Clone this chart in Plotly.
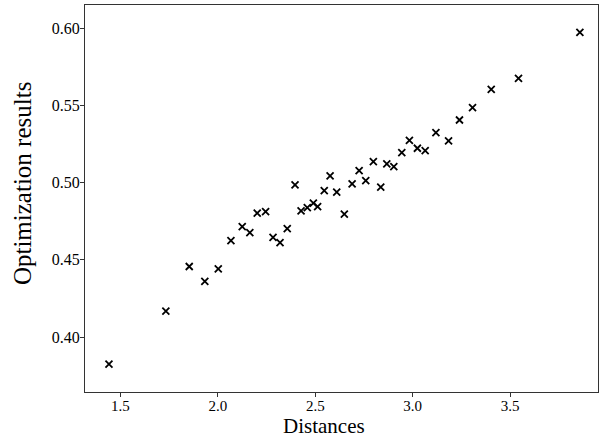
import plotly.graph_objects as go

distances = [1.441, 1.733, 1.853, 1.933, 2.002, 2.067, 2.125, 2.164, 2.202, 2.245,
             2.283, 2.319, 2.356, 2.396, 2.427, 2.459, 2.490, 2.512, 2.546, 2.576,
             2.610, 2.649, 2.689, 2.725, 2.759, 2.798, 2.836, 2.867, 2.903, 2.944,
             2.983, 3.024, 3.064, 3.119, 3.184, 3.240, 3.307, 3.403, 3.543, 3.858]
results = [0.3825, 0.4168, 0.4457, 0.4360, 0.4442, 0.4625, 0.4716, 0.4677, 0.4803, 0.4813,
           0.4645, 0.4612, 0.4703, 0.4986, 0.4818, 0.4839, 0.4867, 0.4845, 0.4949, 0.5044,
           0.4939, 0.4796, 0.4992, 0.5078, 0.5014, 0.5137, 0.4971, 0.5122, 0.5104, 0.5195,
           0.5274, 0.5223, 0.5208, 0.5324, 0.5271, 0.5406, 0.5486, 0.5605, 0.5676, 0.5974]

x_ticks = [1.5, 2.0, 2.5, 3.0, 3.5]
y_ticks = [0.40, 0.45, 0.50, 0.55, 0.60]
x_label = "Distances"
y_label = "Optimization results"

fig = go.Figure(go.Scatter(
    x=distances, y=results, mode="markers",
    marker=dict(symbol="x-thin", size=7, line=dict(width=1.8, color="black"), color="black"),
))

font = "Liberation Serif, Times New Roman, serif"
fig.update_layout(
    width=609, height=438,
    margin=dict(l=85, r=11, t=5, b=46),
    paper_bgcolor="white", plot_bgcolor="white",
    font=dict(family=font, color="black"),
    showlegend=False,
    annotations=[
        dict(text=x_label, xref="paper", yref="paper", x=0.4653, y=-0.087,
             xanchor="center", yanchor="middle", showarrow=False,
             font=dict(size=21, family=font, color="black")),
        dict(text=y_label, xref="paper", yref="paper", x=-0.1203, y=0.538,
             xanchor="center", yanchor="middle", showarrow=False, textangle=-90,
             font=dict(size=25, family=font, color="black")),
    ],
)
fig.update_xaxes(
    range=[1.318, 3.951], tickvals=x_ticks, ticktext=[f"{v:.1f}" for v in x_ticks],
    ticks="outside", ticklen=4, tickcolor="#333", tickfont=dict(size=15, family=font),
    ticklabelstandoff=-4,
    showline=True, linecolor="#333", linewidth=1, mirror=True, showgrid=False, zeroline=False,
    automargin=False,
)
fig.update_yaxes(
    range=[0.3644, 0.6151], tickvals=y_ticks, ticktext=[f"{v:.2f}" for v in y_ticks],
    ticks="outside", ticklen=4, tickcolor="#333", tickfont=dict(size=16, family=font),
    ticklabelstandoff=-3,
    showline=True, linecolor="#333", linewidth=1, mirror=True, showgrid=False, zeroline=False,
    automargin=False,
)
fig.write_html("out.html", post_script="document.body.style.margin='0';",
               config={"displayModeBar": False})
